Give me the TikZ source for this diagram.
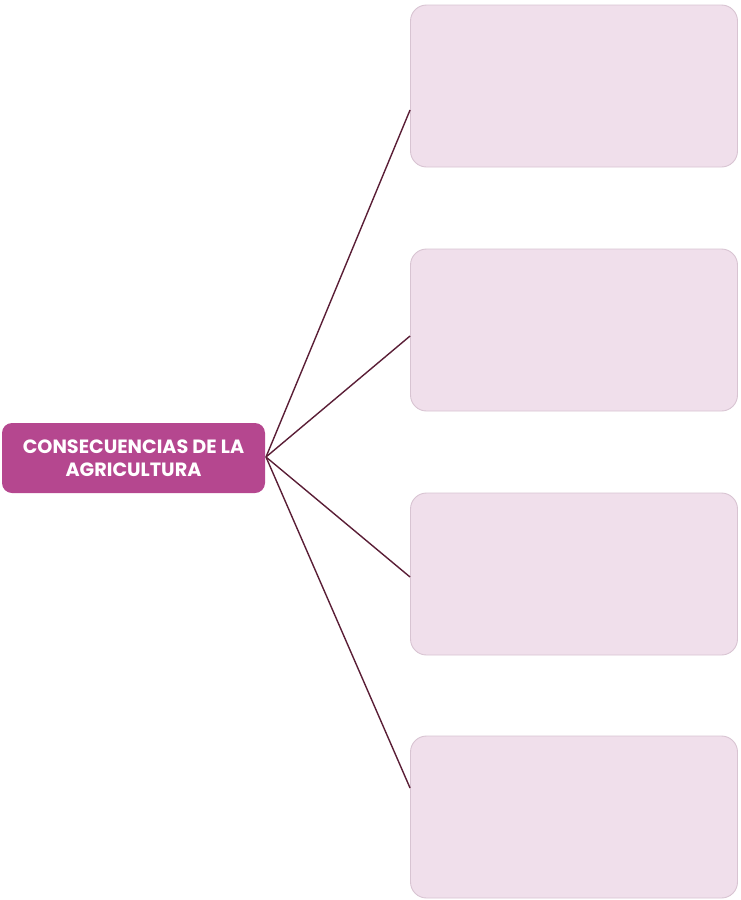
\documentclass[tikz,border=0pt]{standalone}
\usepackage{fontspec}
\newfontfamily\titlefont{Poppins}
\definecolor{tema fill}{HTML}{B5478F}
\definecolor{caja fill}{HTML}{F0DFEB}
\definecolor{caja edge}{HTML}{D8C4D2}
\definecolor{rama}{HTML}{5A1E36}
\tikzset{tema/.style={fill=tema fill, draw=none, rounded corners=10pt, minimum width=263pt, minimum height=70pt, inner sep=0pt, align=center, text=white, font=\titlefont\bfseries\fontsize{19.2}{23}\selectfont},
	caja/.style={fill=caja fill, draw=caja edge, line width=0.9pt, rounded corners=16pt, minimum width=327pt, minimum height=162pt, inner sep=0pt},
	ramal/.style={draw=rama, line width=1.4pt}}

\begin{document}
\begin{tikzpicture}[x=1pt,y=-1pt]
		\useasboundingbox (0,0) rectangle (740,900);
		\node[tema] (t) at (133.5,458) {CONSECUENCIAS DE LA\\AGRICULTURA};
		\node[caja] (c1) at (574,86) {};
		\node[caja] (c2) at (574,330) {};
		\node[caja] (c3) at (574,574) {};
		\node[caja] (c4) at (574,817) {};
		\coordinate (o) at (266,457);
		\draw[ramal] (o) -- (c1.west |- 0,110);
		\draw[ramal] (o) -- (c2.west |- 0,336);
		\draw[ramal] (o) -- (c3.west |- 0,577);
		\draw[ramal] (o) -- (c4.west |- 0,788);
		\end{tikzpicture}
\end{document}
